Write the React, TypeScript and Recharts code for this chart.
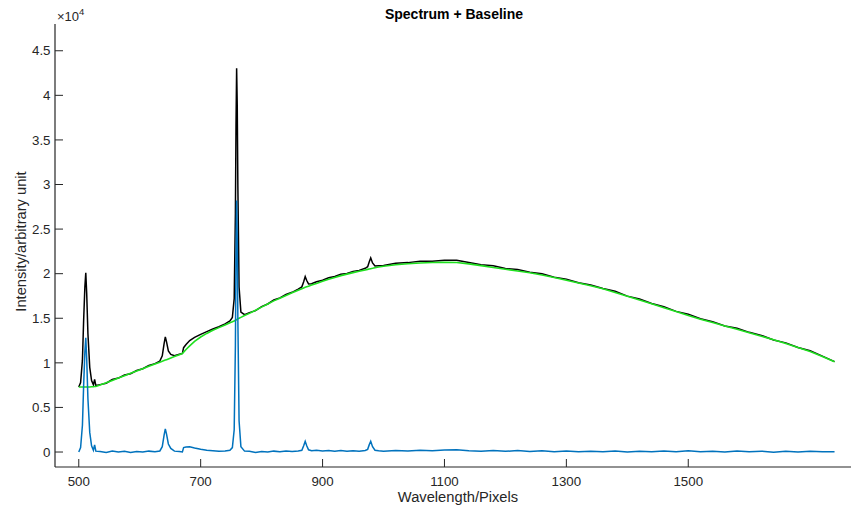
import { LineChart, Line, XAxis, YAxis } from "recharts";

// intensities are read in units of 10^4 (the axis carries the x10^4 multiplier)
const wavelength = [
  500, 503, 506, 508, 510, 511.5, 513, 515, 518, 521,
  524, 526, 528, 535, 545, 555, 565, 575, 585, 595,
  605, 615, 625, 633, 637, 640, 642, 644, 647, 651,
  657, 665, 670, 672, 676, 682, 690, 700, 710, 720,
  730, 740, 748, 752, 755, 757, 758, 759, 760, 761,
  763, 766, 772, 780, 790, 800, 810, 820, 830, 840,
  850, 860, 866, 869, 871.5, 874, 877, 882, 890, 900,
  910, 920, 930, 940, 950, 960, 970, 974, 976.5, 979,
  982, 986, 992, 1000, 1020, 1040, 1060, 1080, 1100, 1120,
  1140, 1160, 1180, 1200, 1220, 1240, 1260, 1280, 1300, 1320,
  1340, 1360, 1380, 1400, 1420, 1440, 1460, 1480, 1500, 1520,
  1540, 1560, 1580, 1600, 1620, 1640, 1660, 1680, 1700, 1720,
  1740,
];

const rawSpectrum = [
  0.73, 0.78, 1.03, 1.48, 1.85, 2.01, 1.78, 1.33, 0.95, 0.802,
  0.753, 0.814, 0.745, 0.756, 0.772, 0.813, 0.829, 0.864, 0.878, 0.914,
  0.934, 0.971, 0.991, 1.02, 1.078, 1.216, 1.291, 1.236, 1.134, 1.095,
  1.081, 1.097, 1.105, 1.17, 1.205, 1.25, 1.285, 1.32, 1.35, 1.38,
  1.405, 1.437, 1.47, 1.51, 1.72, 2.677, 3.68, 4.305, 3.89, 2.993,
  1.85, 1.57, 1.54, 1.563, 1.586, 1.631, 1.66, 1.705, 1.729, 1.767,
  1.791, 1.827, 1.852, 1.91, 1.967, 1.923, 1.885, 1.887, 1.91, 1.927,
  1.955, 1.968, 1.994, 2.003, 2.026, 2.037, 2.06, 2.078, 2.132, 2.176,
  2.12, 2.086, 2.089, 2.093, 2.118, 2.124, 2.14, 2.14, 2.15, 2.151,
  2.125, 2.1, 2.088, 2.058, 2.046, 2.016, 1.999, 1.961, 1.939, 1.898,
  1.874, 1.834, 1.802, 1.748, 1.715, 1.666, 1.63, 1.577, 1.546, 1.494,
  1.462, 1.414, 1.388, 1.342, 1.308, 1.256, 1.224, 1.172, 1.136, 1.076,
  1.014,
];

const baseline = [
  0.73, 0.73, 0.73, 0.73, 0.73, 0.73, 0.73, 0.73, 0.73, 0.732,
  0.733, 0.734, 0.735, 0.751, 0.777, 0.803, 0.829, 0.856, 0.882, 0.908,
  0.934, 0.961, 0.987, 1.008, 1.018, 1.026, 1.031, 1.036, 1.044, 1.055,
  1.071, 1.092, 1.105, 1.12, 1.15, 1.19, 1.24, 1.29, 1.33, 1.365,
  1.395, 1.425, 1.45, 1.46, 1.47, 1.477, 1.48, 1.485, 1.49, 1.493,
  1.5, 1.51, 1.53, 1.555, 1.59, 1.625, 1.66, 1.695, 1.725, 1.755,
  1.785, 1.815, 1.832, 1.84, 1.847, 1.853, 1.86, 1.872, 1.89, 1.915,
  1.937, 1.958, 1.978, 1.995, 2.012, 2.027, 2.042, 2.048, 2.052, 2.056,
  2.06, 2.066, 2.074, 2.083, 2.1, 2.112, 2.12, 2.125, 2.128, 2.126,
  2.11, 2.09, 2.07, 2.05, 2.03, 2.01, 1.985, 1.957, 1.927, 1.896,
  1.864, 1.83, 1.79, 1.748, 1.705, 1.662, 1.618, 1.575, 1.532, 1.49,
  1.452, 1.414, 1.376, 1.338, 1.298, 1.258, 1.216, 1.172, 1.126, 1.072,
  1.012,
];

const corrected = [
  0.0, 0.05, 0.3, 0.75, 1.12, 1.28, 1.05, 0.6, 0.22, 0.07,
  0.02, 0.08, 0.01, 0.005, -0.005, 0.01, 0.0, 0.008, -0.004, 0.006,
  0.0, 0.01, 0.004, 0.012, 0.06, 0.19, 0.26, 0.2, 0.09, 0.04,
  0.01, 0.005, 0.0, 0.05, 0.055, 0.06, 0.045, 0.03, 0.02, 0.015,
  0.01, 0.012, 0.02, 0.05, 0.25, 1.2, 2.2, 2.82, 2.4, 1.5,
  0.35, 0.06, 0.01, 0.008, -0.004, 0.006, 0.0, 0.01, 0.004, 0.012,
  0.006, 0.012, 0.02, 0.07, 0.12, 0.07, 0.025, 0.015, 0.02, 0.012,
  0.018, 0.01, 0.016, 0.008, 0.014, 0.01, 0.018, 0.03, 0.08, 0.12,
  0.06, 0.02, 0.015, 0.01, 0.018, 0.012, 0.02, 0.015, 0.022, 0.025,
  0.015, 0.01, 0.018, 0.008, 0.016, 0.006, 0.014, 0.004, 0.012, 0.002,
  0.01, 0.004, 0.012, 0.0, 0.01, 0.004, 0.012, 0.002, 0.014, 0.004,
  0.01, 0.0, 0.012, 0.004, 0.01, -0.002, 0.008, 0.0, 0.01, 0.004,
  0.002,
];

const xTicks = [500, 700, 900, 1100, 1300, 1500];
const yTicks = [0, 0.5, 1, 1.5, 2, 2.5, 3, 3.5, 4, 4.5];

const AXIS_COLOR = "#262626";
const FONT = '"Liberation Sans", Arial, Helvetica, sans-serif';

const chartData = wavelength.map((w, i) => ({
  wavelength: w,
  raw: rawSpectrum[i],
  baseline: baseline[i],
  corrected: corrected[i],
}));

// MATLAB style ticks point into the plot
const XTick = ({ x, y, payload }: any) => (
  <g>
    <line x1={x} y1={y} x2={x} y2={y - 8} stroke={AXIS_COLOR} />
    <text x={x} y={y + 19} textAnchor="middle" fontSize={13.3} fill={AXIS_COLOR} fontFamily={FONT}>
      {payload.value}
    </text>
  </g>
);

const YTick = ({ x, y, payload }: any) => (
  <g>
    <line x1={x} y1={y} x2={x + 8} y2={y} stroke={AXIS_COLOR} />
    <text x={x - 4.5} y={y + 4.7} textAnchor="end" fontSize={13.3} fill={AXIS_COLOR} fontFamily={FONT}>
      {payload.value}
    </text>
  </g>
);

export default function App() {
  return (
    <div style={{ position: "absolute", left: 0, top: 0, width: 854, height: 514, background: "#fff" }}>
      <LineChart
        width={854}
        height={514}
        data={chartData}
        margin={{ top: 24, right: 3, bottom: 17, left: 10 }}
      >
        <XAxis
          dataKey="wavelength"
          type="number"
          domain={[461, 1767]}
          ticks={xTicks}
          allowDataOverflow
          height={30}
          tickSize={0}
          tickMargin={0}
          tickLine={false}
          axisLine={{ stroke: AXIS_COLOR, strokeWidth: 1.2 }}
          tick={<XTick />}
        />
        <YAxis
          type="number"
          domain={[-0.168, 4.8]}
          ticks={yTicks}
          allowDataOverflow
          width={45}
          tickSize={0}
          tickMargin={0}
          tickLine={false}
          axisLine={{ stroke: AXIS_COLOR, strokeWidth: 1.2 }}
          tick={<YTick />}
        />
        <Line dataKey="raw" stroke="#000000" strokeWidth={1.5} dot={false} type="linear" isAnimationActive={false} />
        <Line dataKey="baseline" stroke="#1fe01f" strokeWidth={1.6} dot={false} type="linear" isAnimationActive={false} />
        <Line dataKey="corrected" stroke="#0072BD" strokeWidth={1.5} dot={false} type="linear" isAnimationActive={false} />
      </LineChart>
      <svg
        width={854}
        height={514}
        style={{ position: "absolute", left: 0, top: 0, pointerEvents: "none" }}
      >
        <text x={454} y={19} textAnchor="middle" fontSize={14} fontWeight="bold" fill="#000" fontFamily={FONT}>
          Spectrum + Baseline
        </text>
        <text x={57} y={21} fontSize={13} fill={AXIS_COLOR} fontFamily={FONT}>
          ×10
          <tspan fontSize={9.5} dy={-6}>4</tspan>
        </text>
        <text x={458} y={502} textAnchor="middle" fontSize={14.7} fill={AXIS_COLOR} fontFamily={FONT}>
          Wavelength/Pixels
        </text>
        <text
          x={26}
          y={241.5}
          textAnchor="middle"
          fontSize={14.7}
          fill={AXIS_COLOR}
          fontFamily={FONT}
          transform="rotate(-90 26 241.5)"
        >
          Intensity/arbitrary unit
        </text>
      </svg>
    </div>
  );
}
